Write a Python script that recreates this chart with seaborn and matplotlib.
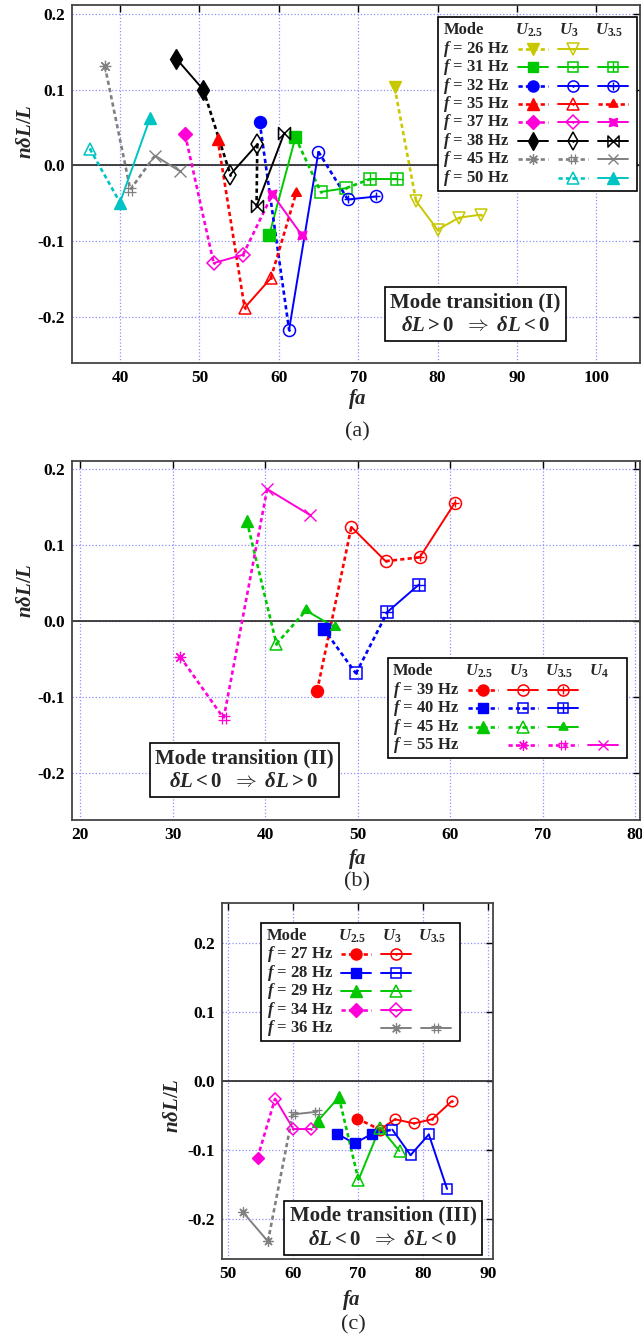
import matplotlib
matplotlib.use("Agg")
import numpy as np
import pandas as pd
import matplotlib.pyplot as plt
import seaborn as sns
from matplotlib.path import Path
from matplotlib.lines import Line2D
from matplotlib.text import Text
from matplotlib.offsetbox import DrawingArea, HPacker, VPacker, AnchoredOffsetbox

# ---------------- data ----------------
# Panel (a)  -- Mode transition (I)
A_COLS = ["U2.5", "U3", "U3.5"]
A26_FA = [74.6, 77.3, 80.0, 82.7, 85.5]
A26_Y = [0.103, -0.047, -0.085, -0.069, -0.065]
A26_MODE = ["U2.5", "U3", "U3", "U3", "U3"]
A31_FA = [58.8, 62.1, 65.3, 68.5, 71.5, 74.9]
A31_Y = [-0.092, 0.037, -0.035, -0.030, -0.018, -0.018]
A31_MODE = ["U2.5", "U2.5", "U3", "U3", "U3.5", "U3.5"]
A32_FA = [57.6, 61.3, 65.0, 68.7, 72.3]
A32_Y = [0.057, -0.217, 0.018, -0.045, -0.041]
A32_MODE = ["U2.5", "U3", "U3", "U3.5", "U3.5"]
A35_FA = [52.3, 55.7, 59.0, 62.2]
A35_Y = [0.035, -0.188, -0.149, -0.036]
A35_MODE = ["U2.5", "U3", "U3", "U3.5"]
A37_FA = [48.2, 51.8, 55.5, 59.2, 62.9]
A37_Y = [0.041, -0.129, -0.118, -0.038, -0.092]
A37_MODE = ["U2.5", "U3", "U3", "U3.5", "U3.5"]
A38_FA = [47.1, 50.5, 53.9, 57.3, 57.2, 60.7]
A38_Y = [0.141, 0.100, -0.012, 0.028, -0.054, 0.043]
A38_MODE = ["U2.5", "U2.5", "U3", "U3", "U3.5", "U3.5"]
A45_FA = [38.1, 41.3, 44.4, 47.6]
A45_Y = [0.131, -0.032, 0.013, -0.008]
A45_MODE = ["U2.5", "U3", "U3.5", "U3.5"]
A50_FA = [36.2, 40.0, 43.8]
A50_Y = [0.022, -0.049, 0.063]
A50_MODE = ["U3", "U3.5", "U3.5"]

# Panel (b) -- Mode transition (II)
B_COLS = ["U2.5", "U3", "U3.5", "U4"]
B39_FA = [45.6, 49.3, 53.0, 56.7, 60.5]
B39_Y = [-0.092, 0.124, 0.079, 0.084, 0.156]
B39_MODE = ["U2.5", "U3", "U3", "U3.5", "U3.5"]
B40_FA = [46.3, 49.8, 53.2, 56.6]
B40_Y = [-0.010, -0.069, 0.012, 0.048]
B40_MODE = ["U2.5", "U3", "U3.5", "U3.5"]
B45_FA = [38.0, 41.2, 44.4, 47.5]
B45_Y = [0.132, -0.030, 0.014, -0.008]
B45_MODE = ["U2.5", "U3", "U3.5", "U3.5"]
B55_FA = [30.8, 35.5, 40.2, 44.8]
B55_Y = [-0.047, -0.128, 0.174, 0.140]
B55_MODE = ["U3", "U3.5", "U4", "U4"]

# Panel (c) -- Mode transition (III)
C_COLS = ["U2.5", "U3", "U3.5"]
C27_FA = [69.9, 73.4, 75.7, 78.6, 81.4, 84.4]
C27_Y = [-0.054, -0.070, -0.055, -0.061, -0.055, -0.029]
C27_MODE = ["U2.5", "U3", "U3", "U3", "U3", "U3"]
C28_FA = [66.8, 69.5, 72.2, 75.3, 78.1, 80.9, 83.7]
C28_Y = [-0.076, -0.090, -0.076, -0.070, -0.107, -0.077, -0.156]
C28_MODE = ["U2.5", "U2.5", "U2.5", "U3", "U3", "U3", "U3"]
C29_FA = [63.9, 67.1, 70.1, 73.4, 76.4]
C29_Y = [-0.057, -0.023, -0.143, -0.067, -0.101]
C29_MODE = ["U2.5", "U2.5", "U3", "U3", "U3"]
C34_FA = [54.6, 57.3, 60.1, 62.8]
C34_Y = [-0.111, -0.025, -0.069, -0.069]
C34_MODE = ["U2.5", "U3", "U3", "U3"]
C36_FA = [52.4, 56.2, 60.0, 63.8]
C36_Y = [-0.190, -0.232, -0.048, -0.044]
C36_MODE = ["U3", "U3", "U3.5", "U3.5"]

YTICKS = [-0.2, -0.1, 0.0, 0.1, 0.2]

# ---------------- styles ----------------
YEL, GRN, BLU, RED, MAG, BLK, GRY, CYN = ("#c8c800", "#00c800", "#0000ff", "#ff0000",
                                          "#ff00d8", "#000000", "#808080", "#00c4c4")

sns.set_style("white")
plt.rcParams.update({
    "font.weight": "bold",
    "axes.labelweight": "bold",
    "axes.unicode_minus": False,
    "mathtext.fontset": "custom",
    "mathtext.rm": "Liberation Serif:bold",
    "mathtext.it": "Liberation Serif:italic:bold",
    "mathtext.bf": "Liberation Serif:bold",
})
plt.rcParams["font.family"] = ["Liberation Serif", "DejaVu Serif"]

PX = 0.72  # points per pixel at dpi 100

BOWTIE = Path([(-1, -1), (1, 1), (1, -1), (-1, 1), (-1, -1)],
              [Path.MOVETO, Path.LINETO, Path.LINETO, Path.LINETO, Path.CLOSEPOLY])
HASH = Path([(-0.35, -1), (-0.35, 1), (0.35, -1), (0.35, 1),
             (-1, -0.35), (1, -0.35), (-1, 0.35), (1, 0.35)],
            [Path.MOVETO, Path.LINETO] * 4)


def marker_layers(kind, color, scale=1.0):
    ms = 8.0 * scale
    dot = dict(marker=".", ms=2.6 * scale, mfc=color, mec=color, mew=0.5)
    filled = lambda m, k=1.0: dict(marker=m, ms=ms * k, mfc=color, mec=color, mew=1.0)
    opened = lambda m, k=1.0: dict(marker=m, ms=ms * k, mfc="none", mec=color, mew=1.1)
    base, sym = kind.split("_") if "_" in kind else (kind, "")
    mk = {"o": ("o", 1.0), "s": ("s", 0.95), "^": ("^", 1.05), "v": ("v", 1.05),
          "D": ("D", 0.85), "d": ("d", 1.15)}
    if base in mk:
        m, k = mk[base]
        if sym == "f":
            return [filled(m, k)]
        if sym == "o":
            return [opened(m, k)]
        if sym == "d":
            return [opened(m, k), dot]
        if sym == "p":
            return [opened(m, k), dict(marker="+", ms=ms * (0.95 if m == "s" else 0.7),
                                        mec=color, mew=1.0)]
    if kind == "arrow":
        return [filled((3, 1, 0), 0.95)]
    if kind == "star4":
        return [filled((4, 1, 45), 1.05)]
    if kind == "bowtie":
        return [opened(BOWTIE, 1.0)]
    if kind == "ast":
        return [dict(marker=(8, 2, 0), ms=ms * 0.95, mfc=color, mec=color, mew=0.9)]
    if kind == "hash":
        return [dict(marker=HASH, ms=ms * 0.95, mfc="none", mec=color, mew=0.9)]
    if kind == "x":
        return [dict(marker="x", ms=ms * 0.95, mfc=color, mec=color, mew=1.0)]
    raise ValueError(kind)


DASH = (1.6, 1.2)
LW_SOLID, LW_DASH = 1.4, 1.9


def plot_series(ax, fa, y, modes, color, cols, cells, scale=1.0):
    rows = []
    for i in range(len(fa) - 1):
        kind = "solid" if modes[i] == modes[i + 1] else "dashed"
        rows.append(dict(seg=i, fa=fa[i], ndl=y[i], kind=kind))
        rows.append(dict(seg=i, fa=fa[i + 1], ndl=y[i + 1], kind=kind))
    df = pd.DataFrame(rows)
    sns.lineplot(data=df, x="fa", y="ndl", units="seg", estimator=None,
                 style="kind", style_order=["solid", "dashed"],
                 dashes={"solid": "", "dashed": DASH},
                 size="kind", size_order=["solid", "dashed"],
                 sizes={"solid": LW_SOLID, "dashed": LW_DASH},
                 color=color, sort=False, legend=False, ax=ax, zorder=2)
    fa = np.asarray(fa)
    y = np.asarray(y)
    modes = np.asarray(modes)
    for m in dict.fromkeys(modes):
        idx = modes == m
        kind = cells[cols.index(m)][0]
        for kw in marker_layers(kind, color, scale):
            ax.plot(fa[idx], y[idx], ls="none", zorder=3, **kw)


def text_cell(s, w, h, fs, ha="left", dx=0.0):
    da = DrawingArea(w, h, 0, 0)
    x = 1.5 * PX if ha == "left" else w / 2 + dx
    da.add_artist(Text(x, h / 2, s, ha=ha, va="center", fontsize=fs, fontweight="bold"))
    return da


def sample_cell(cell, color, w, h, scale):
    da = DrawingArea(w, h, 0, 0)
    if cell is None:
        return da
    kind, ls = cell
    half = 15 * PX
    if ls == "-":
        ln = Line2D([w / 2 - half, w / 2 + half], [h / 2, h / 2], color=color, lw=LW_SOLID)
    else:
        ln = Line2D([w / 2 - half, w / 2 + half], [h / 2, h / 2], color=color, lw=LW_DASH,
                    linestyle=(0, DASH))
    da.add_artist(ln)
    for kw in marker_layers(kind, color, scale):
        da.add_artist(Line2D([w / 2], [h / 2], ls="none", **kw))
    return da


def table_legend(ax, cols, labels, colors, cells_list, loc, anchor, fs=12, scale=1.0):
    rh, lw_, cw = 18.4 * PX, 71 * PX, 40 * PX
    rows = [HPacker(children=[text_cell("Mode", lw_, rh, fs)] +
                    [text_cell(r"$U_{%s}$" % c[1:], cw, rh, fs, ha="center", dx=-4 * PX)
                     for c in cols], sep=0, pad=0, align="bottom")]
    for lab, col, cells in zip(labels, colors, cells_list):
        rows.append(HPacker(children=[text_cell(r"$f$ = %s Hz" % lab, lw_, rh, fs)] +
                            [sample_cell(c, col, cw, rh, scale) for c in cells],
                            sep=0, pad=0, align="bottom"))
    vp = VPacker(children=rows, sep=0, pad=0, align="left")
    box = AnchoredOffsetbox(loc=loc, child=vp, pad=0.3, borderpad=0, frameon=True,
                            bbox_to_anchor=anchor, bbox_transform=ax.transAxes)
    box.patch.set_edgecolor("black")
    box.patch.set_linewidth(1.2)
    box.patch.set_facecolor("white")
    box.set_zorder(6)
    ax.add_artist(box)


def style_axes(ax, xlim, ylim, xticks):
    ax.set_xlim(*xlim)
    ax.set_ylim(*ylim)
    ax.set_xticks(xticks)
    ax.set_yticks(YTICKS)
    ax.set_yticklabels(["%.1f" % v for v in YTICKS])
    ax.grid(True, color="#8f8fff", ls=":", lw=0.9)
    ax.set_axisbelow(True)
    ax.axhline(0, color="#333333", lw=1.3, zorder=1.5)
    ax.tick_params(direction="in", top=True, right=True, length=5, width=1.0,
                   labelsize=12.5, pad=5, colors="black")
    for lbl in ax.get_xticklabels() + ax.get_yticklabels():
        lbl.set_fontweight("bold")
    for sp in ax.spines.values():
        sp.set_color("#444444")
        sp.set_linewidth(1.3)
    ax.set_xlabel(r"$fa$", fontsize=15)
    ax.set_ylabel(r"$n\delta L/L$", fontsize=15)


def mode_box(ax, fx, fy, roman, sign1, sign2):
    ax.text(fx, fy, "Mode transition (%s)\n" % roman +
            r"$\delta L %s 0\ \ \Rightarrow\ \delta L %s 0$" % (sign1, sign2),
            transform=ax.transAxes, ha="center", va="center", fontsize=15,
            linespacing=1.25, multialignment="center", zorder=6,
            bbox=dict(boxstyle="square,pad=0.25", fc="white", ec="black", lw=1.2))


fig = plt.figure(figsize=(6.42, 13.40), dpi=100)

# ---------------- panel (a) ----------------
axa = fig.add_axes([0.1121, 0.7291, 0.8847, 0.2672])
A_ROWS = [
    ("26", YEL, A26_FA, A26_Y, A26_MODE, [("v_f", "--"), ("v_d", "-"), None]),
    ("31", GRN, A31_FA, A31_Y, A31_MODE, [("s_f", "-"), ("s_d", "-"), ("s_p", "-")]),
    ("32", BLU, A32_FA, A32_Y, A32_MODE, [("o_f", "--"), ("o_d", "-"), ("o_p", "-")]),
    ("35", RED, A35_FA, A35_Y, A35_MODE, [("^_f", "--"), ("^_d", "-"), ("arrow", "--")]),
    ("37", MAG, A37_FA, A37_Y, A37_MODE, [("D_f", "--"), ("D_d", "-"), ("star4", "-")]),
    ("38", BLK, A38_FA, A38_Y, A38_MODE, [("d_f", "-"), ("d_d", "-"), ("bowtie", "-")]),
    ("45", GRY, A45_FA, A45_Y, A45_MODE, [("ast", "--"), ("hash", "--"), ("x", "-")]),
    ("50", CYN, A50_FA, A50_Y, A50_MODE, [None, ("^_d", "--"), ("^_f", "-")]),
]
for lab, col, fa, y, md, cells in A_ROWS:
    plot_series(axa, fa, y, md, col, A_COLS, cells, scale=1.08)
style_axes(axa, (33.95, 105.5), (-0.261, 0.212), [40, 50, 60, 70, 80, 90, 100])
table_legend(axa, A_COLS, [r[0] for r in A_ROWS], [r[1] for r in A_ROWS],
             [r[5] for r in A_ROWS], "upper right", (0.9947, 0.9665))
mode_box(axa, 0.7105, 0.137, "I", ">", "<")
axa.yaxis.set_label_coords(-0.064, 0.645)
axa.xaxis.set_label_coords(0.502, -0.067)

# ---------------- panel (b) ----------------
axb = fig.add_axes([0.1121, 0.3881, 0.8847, 0.2679])
B_ROWS = [
    ("39", RED, B39_FA, B39_Y, B39_MODE, [("o_f", "--"), ("o_d", "-"), ("o_p", "-"), None]),
    ("40", BLU, B40_FA, B40_Y, B40_MODE, [("s_f", "--"), ("s_d", "--"), ("s_p", "-"), None]),
    ("45", GRN, B45_FA, B45_Y, B45_MODE, [("^_f", "--"), ("^_d", "--"), ("arrow", "-"), None]),
    ("55", MAG, B55_FA, B55_Y, B55_MODE, [None, ("ast", "--"), ("hash", "--"), ("x", "-")]),
]
for lab, col, fa, y, md, cells in B_ROWS:
    plot_series(axb, fa, y, md, col, B_COLS, cells, scale=1.08)
style_axes(axb, (19.1, 80.5), (-0.262, 0.211), [20, 30, 40, 50, 60, 70, 80])
table_legend(axb, B_COLS, [r[0] for r in B_ROWS], [r[1] for r in B_ROWS],
             [r[5] for r in B_ROWS], "upper right", (0.977, 0.4513))
mode_box(axb, 0.303, 0.139, "II", "<", ">")
axb.yaxis.set_label_coords(-0.064, 0.64)
axb.xaxis.set_label_coords(0.502, -0.075)

# ---------------- panel (c) ----------------
axc = fig.add_axes([0.3453, 0.0602, 0.4231, 0.2657])
C_ROWS = [
    ("27", RED, C27_FA, C27_Y, C27_MODE, [("o_f", "--"), ("o_d", "-"), None]),
    ("28", BLU, C28_FA, C28_Y, C28_MODE, [("s_f", "-"), ("s_o", "-"), None]),
    ("29", GRN, C29_FA, C29_Y, C29_MODE, [("^_f", "-"), ("^_o", "-"), None]),
    ("34", MAG, C34_FA, C34_Y, C34_MODE, [("D_f", "--"), ("D_d", "-"), None]),
    ("36", GRY, C36_FA, C36_Y, C36_MODE, [None, ("ast", "-"), ("hash", "-")]),
]
for lab, col, fa, y, md, cells in C_ROWS:
    plot_series(axc, fa, y, md, col, C_COLS, cells, scale=0.95)
style_axes(axc, (49.1, 90.8), (-0.258, 0.258), [50, 60, 70, 80, 90])
table_legend(axc, C_COLS, [r[0] for r in C_ROWS], [r[1] for r in C_ROWS],
             [r[5] for r in C_ROWS], "upper left", (0.1447, 0.9455))
mode_box(axc, 0.594, 0.089, "III", "<", "<")
axc.yaxis.set_label_coords(-0.142, 0.433)
axc.xaxis.set_label_coords(0.479, -0.081)

for s, yy, xx in (("(a)", 432, 357), ("(b)", 882, 357), ("(c)", 1325, 353)):
    fig.text(xx / 642, 1 - yy / 1340, s, ha="center", va="center", fontsize=16,
             fontweight="normal")

fig.savefig("out.png", dpi=100)
